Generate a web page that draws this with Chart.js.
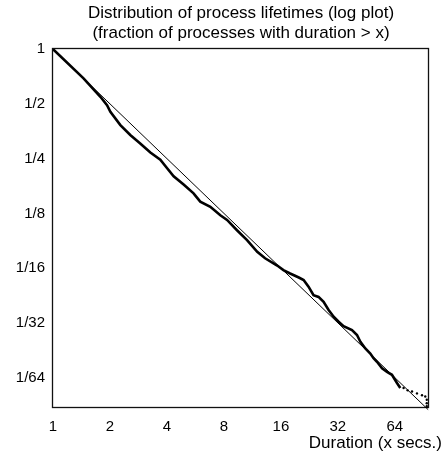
<!DOCTYPE html>
<html><head><meta charset="utf-8">
<style>html,body{margin:0;padding:0;background:#fff;}</style>
<script src="https://cdn.jsdelivr.net/npm/chart.js@4.4.1/dist/chart.umd.min.js"></script>
</head><body>
<canvas id="c" width="443" height="463"></canvas>
<script>
const titleLines = ['Distribution of process lifetimes (log plot)', '(fraction of processes with duration > x)'];
const xAxisTitle = 'Duration (x secs.)';

// empirical curve: duration (s) and fraction of processes lasting longer
const durations = [1, 1.45, 1.78, 1.93, 2.01, 2.27, 2.56, 2.89, 3.27, 3.69, 4.00, 4.34, 4.90, 5.53, 6.00, 6.78, 7.66, 8.31, 9.38, 10.6, 12.0, 13.2, 15.3, 16.5, 17.9, 19.9, 21.1, 22.4, 23.8, 25.3, 26.9, 28.6, 30.4, 32.3, 34.3, 38.0, 40.4, 42.1, 44.7, 47.5, 49.4, 51.5, 54.8, 58.2, 61.8, 65.7, 68.4];
const fractions = [1, 0.690, 0.547, 0.492, 0.452, 0.382, 0.337, 0.303, 0.270, 0.247, 0.222, 0.200, 0.180, 0.161, 0.145, 0.136, 0.122, 0.115, 0.101, 0.0891, 0.0769, 0.0708, 0.0646, 0.0610, 0.0584, 0.0555, 0.0538, 0.0494, 0.0444, 0.0434, 0.0408, 0.0368, 0.0338, 0.0317, 0.0300, 0.0285, 0.0268, 0.0246, 0.0226, 0.0212, 0.0200, 0.0191, 0.0176, 0.0168, 0.0162, 0.0146, 0.0137];

// sparse tail samples
const tailDurations = [71.2, 74.8, 78.9, 83.8, 89.1, 92.7, 94.4, 94.4, 94.4, 94.4];
const tailFractions = [0.0137, 0.0133, 0.0131, 0.0128, 0.0125, 0.0123, 0.0118, 0.0113, 0.0109, 0.0107];

// reference line y = 1/x
const refDurations = [1, 96];

const xTickValues = [1, 2, 4, 8, 16, 32, 64];
const xTickLabels = ['1', '2', '4', '8', '16', '32', '64'];
const yTickValues = [1, 1/2, 1/4, 1/8, 1/16, 1/32, 1/64];
const yTickLabels = ['1', '1/2', '1/4', '1/8', '1/16', '1/32', '1/64'];

const FONT = '"Liberation Sans", Arial, sans-serif';

const framePlugin = {
  id: 'frame',
  beforeDatasetsDraw(chart) {
    const {ctx, chartArea: a} = chart;
    ctx.save();
    ctx.strokeStyle = '#111';
    ctx.lineWidth = 1.3;
    ctx.strokeRect(Math.round(a.left) - 0.5, Math.round(a.top) - 0.5, Math.round(a.right - a.left), Math.round(a.bottom - a.top));
    ctx.restore();
  },
  afterDraw(chart) {
    const {ctx} = chart;
    ctx.save();
    ctx.font = '17px ' + FONT;
    ctx.fillStyle = '#000';
    ctx.textAlign = 'right';
    ctx.textBaseline = 'middle';
    ctx.fillText(xAxisTitle, 442, 443);
    ctx.restore();
  }
};

new Chart(document.getElementById('c'), {
  type: 'scatter',
  data: {
    datasets: [
      {
        data: refDurations.map(d => ({x: d, y: 1 / d})),
        showLine: true, borderColor: '#000', borderWidth: 1, pointRadius: 0, clip: false
      },
      {
        data: durations.map((d, i) => ({x: d, y: fractions[i]})),
        showLine: true, borderColor: '#000', borderWidth: 2.6, pointRadius: 0, tension: 0
      },
      {
        data: tailDurations.map((d, i) => ({x: d, y: tailFractions[i]})),
        showLine: false, pointRadius: 1.2, pointBackgroundColor: '#000', pointBorderWidth: 0
      }
    ]
  },
  options: {
    responsive: false,
    animation: false,
    devicePixelRatio: 1,
    layout: {padding: {left: 0, right: 14, top: 0, bottom: 0}},
    plugins: {
      legend: {display: false},
      tooltip: {enabled: false},
      title: {
        display: true, fullSize: false, text: titleLines, color: '#000',
        font: {family: FONT, size: 17, weight: 'normal', lineHeight: 1.18},
        padding: {top: 3, bottom: 6}
      }
    },
    scales: {
      x: {
        type: 'logarithmic', min: 1, max: 97, position: 'bottom',
        grid: {display: false, drawTicks: false}, border: {display: false},
        afterBuildTicks: s => { s.ticks = xTickValues.map(v => ({value: v})); },
        afterFit: s => { s.height = 55; },
        ticks: {
          autoSkip: false, maxRotation: 0, padding: 10, color: '#000',
          font: {family: FONT, size: 15},
          callback: v => { const i = xTickValues.indexOf(v); return i >= 0 ? xTickLabels[i] : ''; }
        }
      },
      y: {
        type: 'logarithmic', min: 1 / 94, max: 1, position: 'left',
        grid: {display: false, drawTicks: false}, border: {display: false},
        afterBuildTicks: s => { s.ticks = yTickValues.map(v => ({value: v})); },
        afterFit: s => { s.width = 53; },
        ticks: {
          autoSkip: false, padding: 8, color: '#000',
          font: {family: FONT, size: 15},
          callback: v => { const i = yTickValues.indexOf(v); return i >= 0 ? yTickLabels[i] : ''; }
        }
      }
    }
  },
  plugins: [framePlugin]
});
</script>
</body></html>
